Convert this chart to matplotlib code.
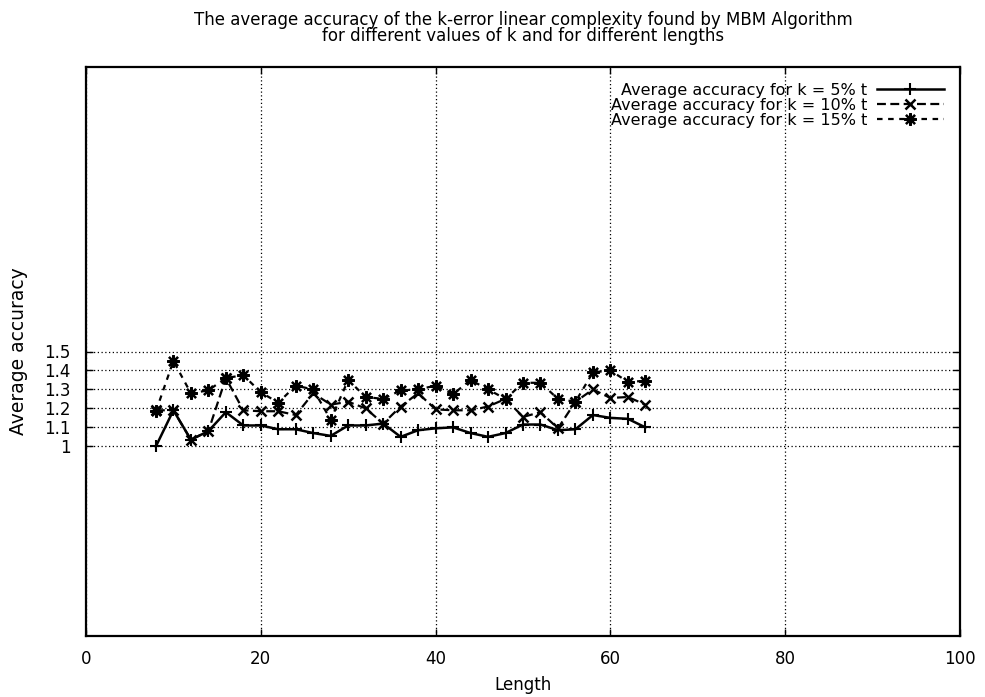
import matplotlib
matplotlib.use("Agg")
import matplotlib.pyplot as plt

plt.rcParams['font.family'] = ['DejaVu Sans']

lengths = [8, 10, 12, 14, 16, 18, 20, 22, 24, 26, 28, 30, 32, 34, 36,
           38, 40, 42, 44, 46, 48, 50, 52, 54, 56, 58, 60, 62, 64]

acc_k5 = [1.00, 1.19, 1.035, 1.08, 1.18, 1.11, 1.11, 1.09, 1.09, 1.07,
          1.055, 1.11, 1.11, 1.12, 1.05, 1.085, 1.095, 1.10, 1.07, 1.05,
          1.07, 1.115, 1.115, 1.085, 1.09, 1.165, 1.15, 1.145, 1.10]

acc_k10 = [1.19, 1.19, 1.035, 1.08, 1.36, 1.19, 1.185, 1.185, 1.165, 1.28,
           1.22, 1.235, 1.20, 1.12, 1.21, 1.28, 1.195, 1.19, 1.19, 1.21,
           1.25, 1.155, 1.18, 1.095, 1.235, 1.30, 1.255, 1.26, 1.22]

acc_k15 = [1.185, 1.45, 1.28, 1.295, 1.36, 1.375, 1.285, 1.23, 1.32, 1.30,
           1.14, 1.35, 1.26, 1.25, 1.295, 1.30, 1.32, 1.275, 1.35, 1.30,
           1.25, 1.335, 1.335, 1.25, 1.235, 1.39, 1.40, 1.34, 1.345]

labels = ['Average accuracy for k = 5% t',
          'Average accuracy for k = 10% t',
          'Average accuracy for k = 15% t']

x_ticks = [0, 20, 40, 60, 80, 100]
y_ticks = [1, 1.1, 1.2, 1.3, 1.4, 1.5]
y_tick_labels = ['1', '1.1', '1.2', '1.3', '1.4', '1.5']

fig = plt.figure(figsize=(9.85, 6.97), dpi=100)
ax = fig.add_axes([86 / 985, 1 - 636 / 697, (960 - 86) / 985, (636 - 67) / 697])

ax.plot(lengths, acc_k5, color='black', linestyle='-', linewidth=1.8,
        marker='+', markersize=8, markeredgewidth=1.5, label=labels[0])
ax.plot(lengths, acc_k10, color='black', linestyle=(0, (4, 2)), linewidth=1.6,
        marker='x', markersize=7, markeredgewidth=1.8, label=labels[1])
ax.plot(lengths, acc_k15, color='black', linestyle=(0, (2.5, 2.5)), linewidth=1.6,
        marker=(8, 2, 0), markersize=9, markeredgewidth=1.6, label=labels[2])

ax.set_xlim(0, 100)
ax.set_ylim(0, 3)
ax.set_xticks(x_ticks)
ax.set_yticks(y_ticks)
ax.set_yticklabels(y_tick_labels)
ax.tick_params(direction='in', top=True, right=True, length=5, labelsize=12,
               width=1.0)
ax.tick_params(axis='x', pad=10)
ax.tick_params(axis='y', pad=11)

ax.grid(True, color='black', linestyle=(0, (1, 2)), linewidth=0.9)
for s in ax.spines.values():
    s.set_linewidth(1.6)

ax.set_xlabel('Length', fontsize=12, labelpad=6)
ax.set_ylabel('Average accuracy', fontsize=13.5, labelpad=12)
ax.set_title('The average accuracy of the k-error linear complexity found by MBM Algorithm\n'
             'for different values of k and for different lengths',
             fontsize=12, linespacing=0.85, pad=19)

ax.legend(loc='upper right', frameon=False, markerfirst=False, fontsize=11.5,
          handlelength=4.2, handletextpad=0.6, labelspacing=0.0,
          borderaxespad=0.6)

fig.savefig('out.png', dpi=100)
